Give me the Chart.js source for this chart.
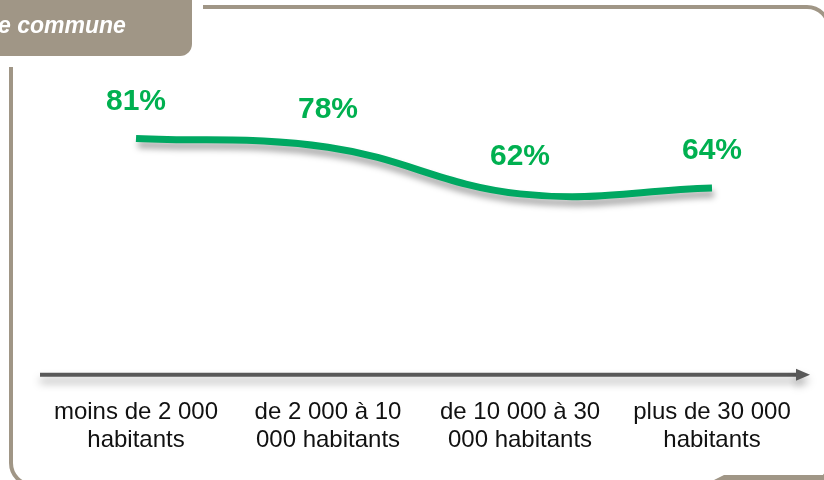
<!DOCTYPE html>
<html>
<head>
<meta charset="utf-8">
<script src="https://cdn.jsdelivr.net/npm/chart.js@4"></script>
<style>
  html, body { margin: 0; padding: 0; background: #fff; }
  #wrap { position: relative; width: 824px; height: 480px; }
</style>
</head>
<body>
<div id="wrap"><canvas id="lineChart" width="824" height="480"></canvas></div>
<script>
const categories = [
    ['moins de 2 000', 'habitants'],
    ['de 2 000 à 10', '000 habitants'],
    ['de 10 000 à 30', '000 habitants'],
    ['plus de 30 000', 'habitants']
];
const values = [81, 78, 62, 64];
const tabText = 'e commune';

const frameColor = '#a09686';
const lineColor = '#00a862';
const labelColor = '#00b050';

// frame, tab and axis arrow drawn behind the line
const decorPlugin = {
    id: 'decor',
    beforeDatasetsDraw: function(chart) {
        const ctx = chart.ctx;
        const area = chart.chartArea;
        ctx.save();
        // rounded frame
        ctx.strokeStyle = frameColor;
        ctx.lineWidth = 4;
        ctx.beginPath();
        ctx.roundRect(11, 7, 818, 478, 22);
        ctx.stroke();
        // clear gap around tab
        ctx.fillStyle = '#fff';
        ctx.fillRect(0, 0, 203, 67);
        // tab
        ctx.fillStyle = frameColor;
        ctx.beginPath();
        ctx.roundRect(-20, -20, 212, 76, 12);
        ctx.fill();
        ctx.fillStyle = '#fff';
        ctx.font = 'italic bold 23px "Liberation Sans", sans-serif';
        ctx.textBaseline = 'alphabetic';
        ctx.textAlign = 'left';
        ctx.fillText(tabText, -2, 33);
        // bottom right piece
        ctx.fillStyle = frameColor;
        ctx.beginPath();
        ctx.moveTo(712, 481);
        ctx.lineTo(724, 475);
        ctx.lineTo(824, 475);
        ctx.lineTo(824, 481);
        ctx.closePath();
        ctx.fill();
        // axis arrow
        const y0 = chart.scales.y.getPixelForValue(0);
        ctx.shadowColor = 'rgba(0,0,0,0.35)';
        ctx.shadowBlur = 8;
        ctx.shadowOffsetY = 6;
        ctx.strokeStyle = '#595959';
        ctx.fillStyle = '#595959';
        ctx.lineWidth = 4;
        ctx.beginPath();
        ctx.moveTo(area.left, y0);
        ctx.lineTo(area.right - 10, y0);
        ctx.stroke();
        ctx.beginPath();
        ctx.moveTo(area.right + 2, y0);
        ctx.lineTo(area.right - 12, y0 - 6);
        ctx.lineTo(area.right - 12, y0 + 6);
        ctx.closePath();
        ctx.fill();
        ctx.restore();
    }
};

const shadowPlugin = {
    id: 'lineShadow',
    beforeDatasetDraw: function(chart) {
        const ctx = chart.ctx;
        ctx.save();
        ctx.shadowColor = 'rgba(0,0,0,0.35)';
        ctx.shadowBlur = 6;
        ctx.shadowOffsetX = 2;
        ctx.shadowOffsetY = 6;
    },
    afterDatasetDraw: function(chart) {
        chart.ctx.restore();
    }
};

const valueLabels = {
    id: 'valueLabels',
    afterDatasetsDraw: function(chart) {
        const ctx = chart.ctx;
        const meta = chart.getDatasetMeta(0);
        ctx.save();
        ctx.fillStyle = labelColor;
        ctx.font = 'bold 30px "Liberation Sans", Arial, sans-serif';
        ctx.textAlign = 'center';
        ctx.textBaseline = 'middle';
        meta.data.forEach(function(pt, i) {
            ctx.fillText(values[i] + '%', pt.x, pt.y - 37);
        });
        ctx.restore();
    }
};

const ctx = document.getElementById('lineChart').getContext('2d');
new Chart(ctx, {
    type: 'line',
    data: {
        labels: categories,
        datasets: [{
            data: values,
            borderColor: lineColor,
            borderWidth: 7,
            borderCapStyle: 'butt',
            tension: 0.4,
            pointRadius: 0,
            fill: false
        }]
    },
    options: {
        responsive: false,
        animation: false,
        layout: { padding: { left: 40, right: 16, top: 83, bottom: 2 } },
        plugins: {
            legend: { display: false },
            tooltip: { enabled: false }
        },
        scales: {
            x: {
                offset: true,
                grid: { display: false, drawTicks: false },
                border: { display: false },
                ticks: {
                    padding: 24,
                    maxRotation: 0,
                    autoSkip: false,
                    color: '#111',
                    font: { family: '"Liberation Sans", sans-serif', size: 24, lineHeight: 1.15 }
                }
            },
            y: {
                display: false,
                min: 0,
                max: 100
            }
        }
    },
    plugins: [decorPlugin, shadowPlugin, valueLabels]
});
</script>
</body>
</html>
